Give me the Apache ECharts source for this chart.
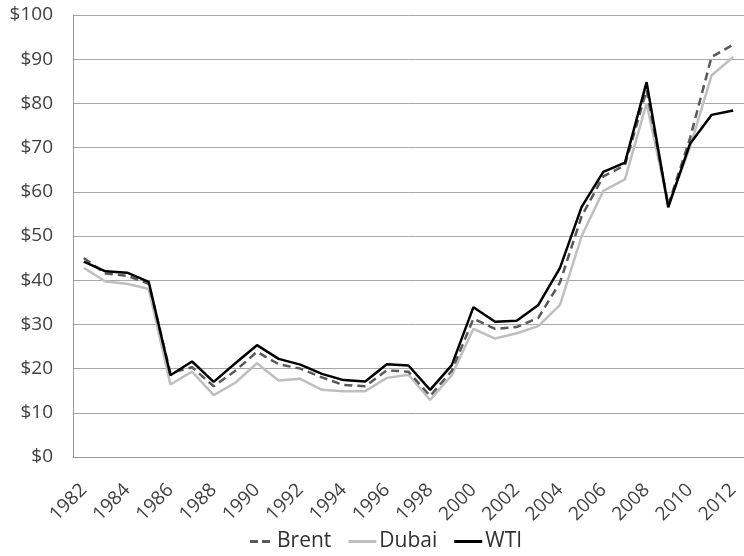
<!DOCTYPE html>
<html>
<head>
<meta charset="utf-8">
<script src="https://cdn.jsdelivr.net/npm/echarts@6/dist/echarts.min.js"></script>
<style>
html,body{margin:0;padding:0;background:#fff;}
#c{width:744px;height:556px;}
</style>
</head>
<body>
<div id="c"></div>
<script>
var years = ['1982','1983','1984','1985','1986','1987','1988','1989','1990','1991','1992','1993','1994','1995','1996','1997','1998','1999','2000','2001','2002','2003','2004','2005','2006','2007','2008','2009','2010','2011','2012'];
var brent = [45.0,41.5,41.0,39.2,19.0,20.3,16.0,19.5,23.8,21.0,20.0,18.0,16.3,16.0,19.6,19.3,13.8,19.5,31.3,29.0,29.4,31.5,39.5,54.5,63.5,66.0,83.0,57.0,72.0,90.5,93.3];
var dubai = [42.8,39.7,39.2,38.0,16.4,19.3,14.0,16.8,21.2,17.3,17.7,15.2,14.9,14.9,17.9,18.6,12.9,18.5,29.0,26.8,28.0,29.6,34.4,50.0,60.2,62.8,80.0,57.0,70.0,86.3,90.5];
var wti = [44.2,42.0,41.7,39.6,18.5,21.6,17.0,21.2,25.3,22.2,20.9,18.8,17.4,17.1,21.0,20.7,15.2,20.8,33.9,30.6,30.8,34.4,42.8,56.6,64.5,66.6,84.8,56.5,70.8,77.4,78.4];
var yTicks = {min:0, max:100, interval:10};

var chart = echarts.init(document.getElementById('c'), null, {renderer:'canvas'});
var font = 'Open Sans';
chart.setOption({
  animation:false,
  backgroundColor:'#ffffff',
  grid:{left:73, right:-5, top:15, bottom:99, containLabel:false},
  legend:{
    bottom:-1, left:245,
    itemWidth:28, itemHeight:3, itemGap:17,
    textStyle:{fontFamily:font, fontSize:21, color:'#303030', padding:[0,0,0,-2]},
    data:[
      {name:'Brent', icon:'path://M0,0h8v3h-8zM12,0h8v3h-8z', itemStyle:{color:'#595959'}},
      {name:'Dubai', icon:'rect', itemStyle:{color:'#bfbfbf'}},
      {name:'WTI', icon:'rect', itemStyle:{color:'#000000'}}
    ]
  },
  xAxis:{
    type:'category', data:years, boundaryGap:true,
    axisLine:{show:true, lineStyle:{color:'#9a9a9a', width:1}},
    axisTick:{show:false},
    axisLabel:{interval:1, rotate:45, margin:30, fontFamily:font, fontSize:19, color:'#404040'},
    splitLine:{show:false}
  },
  yAxis:{
    type:'value', min:yTicks.min, max:yTicks.max, interval:yTicks.interval,
    axisLine:{show:true, lineStyle:{color:'#9a9a9a', width:1}},
    axisTick:{show:false},
    axisLabel:{margin:20, fontFamily:font, fontSize:19, color:'#404040', formatter:function(v){return '$'+v;}},
    splitLine:{show:true, lineStyle:{color:'#a6a6a6', width:1}}
  },
  series:[
    {name:'Brent', type:'line', data:brent, symbol:'none', z:3,
     lineStyle:{color:'#595959', width:2.5, type:[8,5]}, itemStyle:{color:'#595959'}},
    {name:'Dubai', type:'line', data:dubai, symbol:'none', z:2,
     lineStyle:{color:'#bfbfbf', width:2.5}, itemStyle:{color:'#bfbfbf'}},
    {name:'WTI', type:'line', data:wti, symbol:'none', z:4,
     lineStyle:{color:'#000000', width:2.5}, itemStyle:{color:'#000000'}}
  ]
});
</script>
</body>
</html>
